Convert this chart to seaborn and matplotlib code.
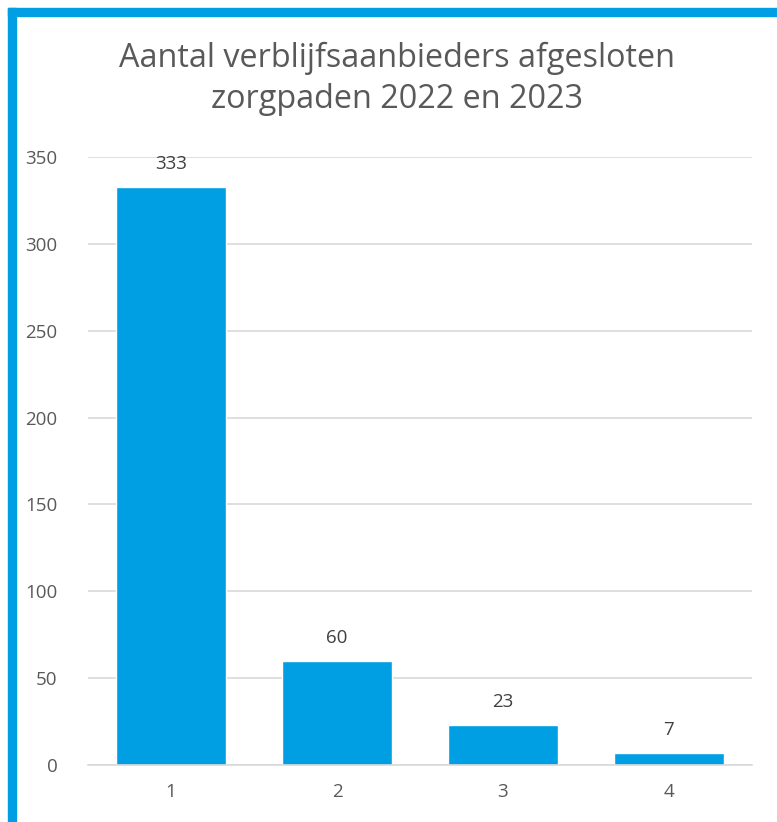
import matplotlib
matplotlib.use("Agg")
import matplotlib.pyplot as plt
import seaborn as sns
from matplotlib.patches import Rectangle

categories = ["1", "2", "3", "4"]
values = [333, 60, 23, 7]
yticks = [0, 50, 100, 150, 200, 250, 300, 350]
title = "Aantal verblijfsaanbieders afgesloten\nzorgpaden 2022 en 2023"

sns.set_style("white")
plt.rcParams['font.family'] = ['Open Sans', 'DejaVu Sans']

blue = "#009FE3"
grey = "#595959"

fig = plt.figure(figsize=(7.77, 8.22), dpi=100)
ax = fig.add_axes([88/777, 1-765/822, 664/777, 608/822])

sns.barplot(x=categories, y=values, ax=ax, color=blue, saturation=1, width=0.663)
ax.set_ylim(0, 350)
ax.set_yticks(yticks)
ax.yaxis.grid(True, color="#D9D9D9", linewidth=1.2)
ax.set_axisbelow(True)
for s in ["top", "right", "left"]:
    ax.spines[s].set_visible(False)
ax.spines["bottom"].set_color("#D9D9D9")
ax.spines["bottom"].set_linewidth(1.2)
ax.tick_params(axis="both", length=0, labelsize=13.5, colors=grey, pad=13)
ax.tick_params(axis="y", pad=22)
ax.set_xlabel("")
ax.set_ylabel("")
ax.bar_label(ax.containers[0], padding=10, fontsize=13.5, color="#404040")

fig.text(397/777, 1-79/822, title, ha="center", va="center", fontsize=23.3,
         color=grey, linespacing=1.33)

# blue frame on the left and top
fig.patches.append(Rectangle((8/777, 0), 8/777, 1-8/822, transform=fig.transFigure,
                             color=blue, zorder=5))
fig.patches.append(Rectangle((8/777, 1-16/822), 1, 8/822, transform=fig.transFigure,
                             color=blue, zorder=5))

fig.savefig("out.png", dpi=100)
